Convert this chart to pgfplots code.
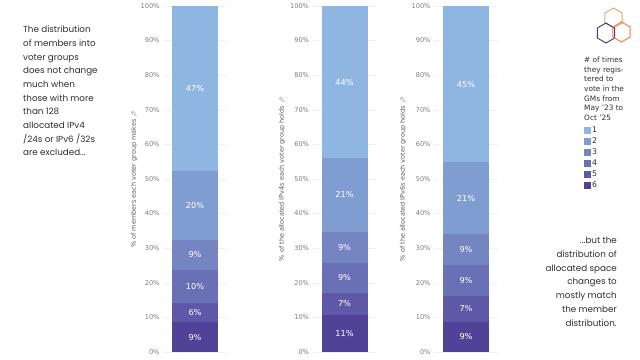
\documentclass[border=0pt]{standalone}
\usepackage{pgfplots}
\pgfplotsset{compat=1.18}
\usepackage{fontspec}
\setmainfont{DejaVu Sans}
\newfontfamily\poppins{Poppins}
\newfontfamily\emoji{Noto Emoji}
\definecolor{c1}{RGB}{143,181,225}
\definecolor{c2}{RGB}{127,157,208}
\definecolor{c3}{RGB}{117,133,194}
\definecolor{c4}{RGB}{105,112,181}
\definecolor{c5}{RGB}{93,89,166}
\definecolor{c6}{RGB}{80,66,150}
\definecolor{tickgray}{RGB}{125,125,125}
\definecolor{labgray}{RGB}{90,90,90}
\definecolor{gridgray}{RGB}{240,240,240}
\definecolor{txt}{RGB}{45,45,45}
\definecolor{hexA}{RGB}{232,160,105}
\definecolor{hexB}{RGB}{60,58,140}
\definecolor{hexC}{RGB}{238,125,50}
\pgfplotsset{
  stackax/.style={
    scale only axis, width=64bp, height=346bp,
    xmin=-0.5, xmax=0.5, ymin=0, ymax=100,
    xtick=\empty, ytick={0,10,...,100},
    axis line style={draw=none}, major tick length=0pt,
    ymajorgrids, grid style={draw=gridgray, line width=0.5bp},
    yticklabel={\pgfmathprintnumber{\tick}\%},
    /pgf/number format/assume math mode=true,
    yticklabel style={font=\fontsize{6.6}{7}\selectfont, text=tickgray},
    ylabel style={rotate=0, anchor=center, font=\fontsize{6.5}{7}\selectfont, text=labgray},
  },
  seg/.style={ybar, bar width=46bp, bar shift=0pt, fill=#1, draw=none,
    legend image code/.code={\fill[##1] (0bp,-3.3bp) rectangle (6.6bp,3.3bp);}},
  lab/.style={draw=none, mark=none, forget plot, nodes near coords, point meta=explicit symbolic,
    every node near coord/.style={anchor=center, text=white, font=\fontsize{8.2}{9}\selectfont}},
}
\begin{document}
\begin{tikzpicture}
\useasboundingbox (0,0) rectangle (640bp,360bp);
% chart 1
\begin{axis}[stackax, at={(163bp,8bp)}, anchor=south west,
  ylabel={\% of members each voter group makes {\emoji\fontsize{5.5}{6}\selectfont 📌}},
  ylabel style={at={(axis description cs:-0.453,0.5)}}]
\addplot[seg=c1] coordinates {(0,100)};
\addplot[seg=c2] coordinates {(0,52.2)};
\addplot[seg=c3] coordinates {(0,32.4)};
\addplot[seg=c4] coordinates {(0,23.7)};
\addplot[seg=c5] coordinates {(0,14.2)};
\addplot[seg=c6] coordinates {(0,8.6)};
\addplot[lab] coordinates {(0,4.3) [9\%] (0,11.4) [6\%] (0,18.95) [10\%] (0,28.05) [9\%] (0,42.3) [20\%] (0,76.1) [47\%]};
\end{axis}
% chart 2
\begin{axis}[stackax, at={(312.5bp,8bp)}, anchor=south west,
  ylabel={\% of the allocated IPv4s each voter group holds {\emoji\fontsize{5.5}{6}\selectfont 📌}},
  ylabel style={at={(axis description cs:-0.477,0.5)}}]
\addplot[seg=c1] coordinates {(0,100)};
\addplot[seg=c2] coordinates {(0,56.0)};
\addplot[seg=c3] coordinates {(0,34.8)};
\addplot[seg=c4] coordinates {(0,25.7)};
\addplot[seg=c5] coordinates {(0,17.1)};
\addplot[seg=c6] coordinates {(0,10.7)};
\addplot[lab] coordinates {(0,5.35) [11\%] (0,13.9) [7\%] (0,21.4) [9\%] (0,30.25) [9\%] (0,45.4) [21\%] (0,78.0) [44\%]};
\end{axis}
% chart 3
\begin{axis}[stackax, at={(434bp,8bp)}, anchor=south west,
  ylabel={\% of the allocated IPv6s each voter group holds {\emoji\fontsize{5.5}{6}\selectfont 📌}},
  ylabel style={at={(axis description cs:-0.484,0.5)}},
  legend style={at={(axis description cs:2.34,0.655)}, anchor=north west, draw=none, fill=none,
    font=\fontsize{7.8}{8}\selectfont, text=txt, inner sep=0pt, row sep=0.8bp,
    nodes={inner sep=1.5bp}},
  legend cell align=left]
\addplot[seg=c1] coordinates {(0,100)};
\addplot[seg=c2] coordinates {(0,54.8)};
\addplot[seg=c3] coordinates {(0,34.1)};
\addplot[seg=c4] coordinates {(0,25.0)};
\addplot[seg=c5] coordinates {(0,16.2)};
\addplot[seg=c6] coordinates {(0,8.8)};
\addplot[lab] coordinates {(0,4.4) [9\%] (0,12.5) [7\%] (0,20.6) [9\%] (0,29.55) [9\%] (0,44.45) [21\%] (0,77.4) [45\%]};
\legend{1,2,3,4,5,6}
\end{axis}
% texts
\node[anchor=north west, align=left, inner sep=0pt, text=txt, font=\poppins\fontsize{8.8}{13.7}\selectfont]
  at (23bp,360bp-26bp) {The distribution\\of members into\\voter groups\\does not change\\much when\\those with more\\than 128\\allocated IPv4\\/24s or IPv6 /32s\\are excluded...};
\node[anchor=north east, align=right, inner sep=0pt, text=txt, font=\poppins\fontsize{8.8}{13.8}\selectfont]
  at (617bp,360bp-237bp) {...but the\\distribution of\\allocated space\\changes to\\mostly match\\the member\\distribution.};
\node[anchor=north west, align=left, inner sep=0pt, text=txt, font=\fontsize{7.4}{9.6}\selectfont]
  at (584bp,360bp-57bp) {\# of times\\they regis-\\tered to\\vote in the\\GMs from\\May '23 to\\Oct '25};
% logo
\foreach \cx/\cy/\col in {613.5/18/hexA, 606/33/hexB, 621.5/32/hexC}{
  \draw[\col, line width=0.9bp] (\cx bp+8.66bp,360bp-\cy bp+5bp) -- (\cx bp,360bp-\cy bp+10bp) -- (\cx bp-8.66bp,360bp-\cy bp+5bp) -- (\cx bp-8.66bp,360bp-\cy bp-5bp) -- (\cx bp,360bp-\cy bp-10bp) -- (\cx bp+8.66bp,360bp-\cy bp-5bp) -- cycle;
}
\end{tikzpicture}
\end{document}
